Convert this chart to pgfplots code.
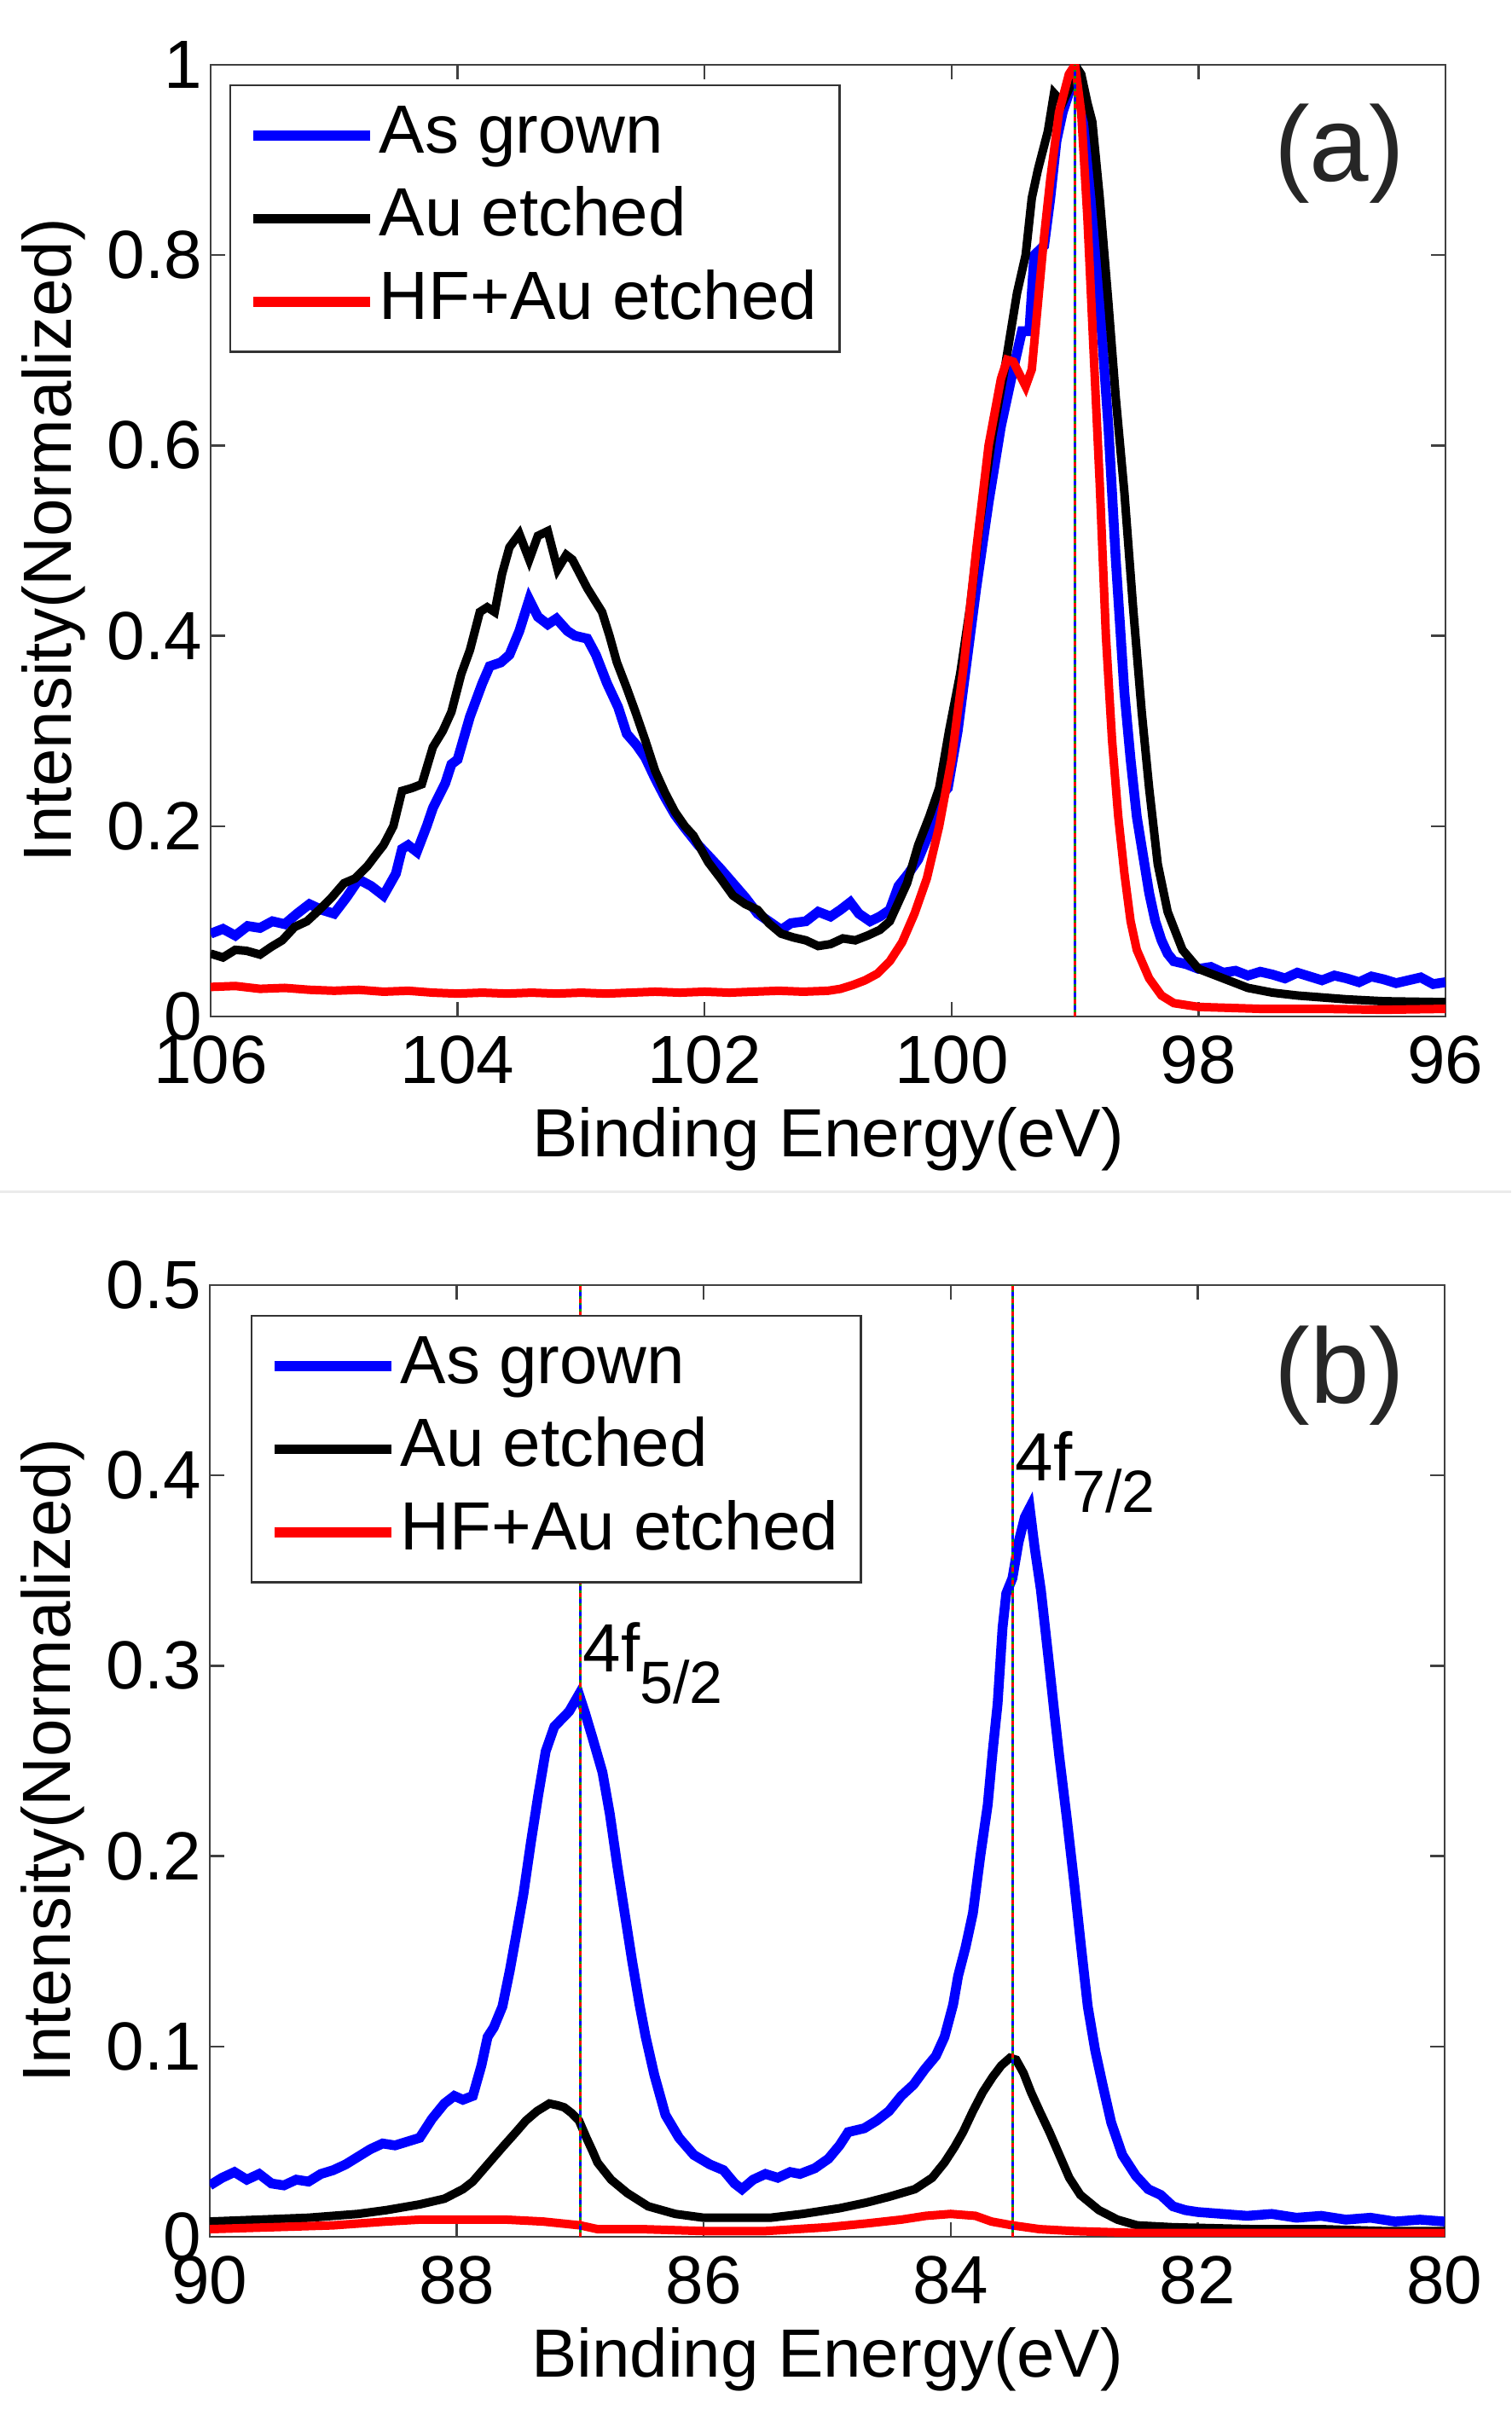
\documentclass[border=0pt]{standalone}
\usepackage{fontspec}
\setmainfont{Liberation Sans}
\usepackage{pgfplots}
\pgfplotsset{compat=1.18}

\pgfplotsset{
  xps/.style={
    scale only axis,
    width=289.6pt, height=223.2pt,
    x dir=reverse,
    axis line style={black!75, line width=0.5pt},
    every tick/.style={black!75, line width=0.5pt},
    major tick length=3.4pt,
    tick align=inside,
    /pgf/number format/assume math mode=true,
    ticklabel style={font=\fontsize{16}{18}\selectfont},
    xticklabel style={yshift=-1pt},
    yticklabel style={xshift=1.5pt},
    xlabel={Binding Energy(eV)},
    ylabel={Intensity(Normalized)},
    xlabel style={font=\fontsize{16}{18}\selectfont, yshift=1.5pt},
    ylabel style={font=\fontsize{16}{18}\selectfont},
    ylabel shift=-1.8pt,
    legend cell align=left,
    legend style={at={(rel axis cs:0,1)}, anchor=north west,
      draw=black!80, line width=0.5pt,
      font=\fontsize{16}{18}\selectfont,
      inner xsep=4.2pt, inner ysep=4.3pt, row sep=4.6pt,
      nodes={inner xsep=1pt, inner ysep=0pt, text height=11.5pt, text depth=3.4pt}},
    legend image code/.code={\draw[line width=2.3pt] (0pt,0pt) -- (27.4pt,0pt);},
    every axis plot/.append style={line width=2pt},
  },
  mark line/.style={line width=0.6pt, forget plot},
}

\begin{document}
\begin{tikzpicture}
\useasboundingbox (0,0) rectangle (354.4pt,566.4pt);
\draw[black!8, line width=0.6pt] (0,286.8pt) -- (354.4pt,286.8pt);

% ---------------- (a) Si 2p ----------------
\begin{axis}[xps,
  at={(49.4pt,328pt)}, anchor=south west,
  xmin=96, xmax=106, ymin=0, ymax=1,
  xtick={96,98,...,106},
  ytick={0,0.2,...,1},
  legend style={xshift=4.4pt, yshift=-4.6pt},
]
\addplot[blue, line width=2.3pt] coordinates {
(106.0,0.087) (105.9,0.092) (105.8,0.085) (105.7,0.095) (105.6,0.093) (105.5,0.100)
(105.4,0.097) (105.3,0.108) (105.2,0.118) (105.1,0.112) (105.0,0.108) (104.9,0.125)
(104.8,0.144) (104.7,0.137) (104.6,0.127) (104.5,0.150) (104.45,0.176) (104.4,0.180)
(104.33,0.173) (104.25,0.200) (104.2,0.219) (104.1,0.245) (104.05,0.265) (104.0,0.270)
(103.9,0.315) (103.8,0.350) (103.74,0.368) (103.65,0.372) (103.58,0.380) (103.5,0.405)
(103.42,0.438) (103.35,0.420) (103.27,0.412) (103.2,0.418) (103.11,0.405) (103.05,0.400)
(102.95,0.397) (102.88,0.380) (102.79,0.350) (102.7,0.325) (102.63,0.297) (102.55,0.285)
(102.48,0.272) (102.4,0.250) (102.32,0.230) (102.24,0.212) (102.16,0.198) (102.05,0.180)
(101.97,0.169) (101.87,0.155) (101.77,0.140) (101.67,0.125) (101.57,0.108) (101.48,0.100)
(101.38,0.091) (101.3,0.098) (101.18,0.100) (101.08,0.110) (100.98,0.105) (100.9,0.112)
(100.82,0.120) (100.75,0.108) (100.66,0.100) (100.58,0.105) (100.5,0.112) (100.43,0.137)
(100.35,0.150) (100.27,0.165) (100.19,0.190) (100.1,0.230) (100.03,0.240) (99.95,0.30)
(99.87,0.38) (99.8,0.45) (99.7,0.54) (99.6,0.62) (99.5,0.68) (99.43,0.72) (99.37,0.72)
(99.33,0.80) (99.25,0.81) (99.2,0.86) (99.15,0.92) (99.1,0.95) (99.05,0.97) (99.0,1.00)
(98.95,0.97) (98.9,0.92) (98.86,0.85) (98.8,0.75) (98.73,0.62) (98.67,0.48) (98.6,0.34)
(98.55,0.27) (98.5,0.21) (98.45,0.17) (98.4,0.13) (98.35,0.10) (98.3,0.08) (98.25,0.066)
(98.2,0.058) (98.1,0.055) (98.0,0.050) (97.9,0.052) (97.8,0.046) (97.7,0.048) (97.6,0.043)
(97.5,0.047) (97.4,0.044) (97.3,0.040) (97.2,0.046) (97.1,0.042) (97.0,0.038) (96.9,0.043)
(96.8,0.040) (96.7,0.036) (96.6,0.042) (96.5,0.039) (96.4,0.035) (96.3,0.038) (96.2,0.041)
(96.1,0.034) (96.0,0.036)
};
\addlegendentry{As grown}
\addplot[black] coordinates {
(106.0,0.066) (105.9,0.062) (105.8,0.070) (105.71,0.069) (105.6,0.065) (105.51,0.073)
(105.42,0.080) (105.32,0.094) (105.22,0.100) (105.12,0.112) (105.02,0.125) (104.92,0.140)
(104.83,0.145) (104.73,0.158) (104.66,0.170) (104.6,0.180) (104.52,0.200) (104.45,0.237)
(104.37,0.240) (104.29,0.244) (104.2,0.283) (104.12,0.300) (104.05,0.320) (103.97,0.360)
(103.9,0.385) (103.82,0.425) (103.76,0.430) (103.7,0.425) (103.64,0.465) (103.58,0.493)
(103.5,0.507) (103.42,0.480) (103.35,0.505) (103.27,0.510) (103.19,0.470) (103.12,0.485)
(103.07,0.480) (102.95,0.450) (102.83,0.425) (102.77,0.400) (102.71,0.372) (102.63,0.345)
(102.56,0.320) (102.48,0.290) (102.4,0.258) (102.32,0.235) (102.24,0.215) (102.16,0.200)
(102.09,0.190) (101.97,0.162) (101.87,0.145) (101.77,0.127) (101.67,0.118) (101.57,0.112)
(101.48,0.098) (101.38,0.087) (101.28,0.083) (101.18,0.080) (101.08,0.074) (100.98,0.076)
(100.88,0.082) (100.78,0.080) (100.68,0.085) (100.58,0.091) (100.5,0.100) (100.43,0.120)
(100.36,0.140) (100.27,0.180) (100.18,0.210) (100.1,0.240) (100.02,0.300) (99.93,0.36)
(99.85,0.43) (99.77,0.52) (99.67,0.61) (99.57,0.68) (99.47,0.76) (99.4,0.80) (99.35,0.86)
(99.3,0.89) (99.22,0.93) (99.17,0.97) (99.1,0.96) (99.03,0.98) (99.0,1.00) (98.95,0.99)
(98.9,0.96) (98.86,0.94) (98.8,0.86) (98.73,0.75) (98.67,0.65) (98.6,0.55) (98.53,0.43)
(98.46,0.32) (98.4,0.24) (98.33,0.16) (98.25,0.11) (98.13,0.07) (98.0,0.05) (97.8,0.040)
(97.6,0.030) (97.4,0.025) (97.2,0.022) (97.0,0.020) (96.8,0.018) (96.5,0.016) (96.0,0.015)
};
\addlegendentry{Au etched}
\addplot[red] coordinates {
(106.0,0.031) (105.8,0.032) (105.6,0.029) (105.4,0.030) (105.2,0.028) (105.0,0.027)
(104.8,0.028) (104.6,0.026) (104.4,0.027) (104.2,0.025) (104.0,0.024) (103.8,0.025)
(103.6,0.024) (103.4,0.025) (103.2,0.024) (103.0,0.025) (102.8,0.024) (102.6,0.025)
(102.4,0.026) (102.2,0.025) (102.0,0.026) (101.8,0.025) (101.6,0.026) (101.4,0.027)
(101.2,0.026) (101.0,0.027) (100.9,0.029) (100.8,0.033) (100.7,0.038) (100.6,0.045)
(100.5,0.058) (100.4,0.078) (100.3,0.108) (100.2,0.145) (100.1,0.200) (100.0,0.270)
(99.9,0.370) (99.8,0.490) (99.7,0.600) (99.6,0.670) (99.55,0.690) (99.5,0.688)
(99.45,0.675) (99.4,0.662) (99.35,0.680) (99.3,0.750) (99.25,0.820) (99.2,0.880)
(99.13,0.950) (99.05,0.990) (99.0,1.000) (98.95,0.950) (98.9,0.840) (98.85,0.700)
(98.8,0.560) (98.75,0.400) (98.7,0.290) (98.65,0.210) (98.6,0.150) (98.55,0.100)
(98.5,0.070) (98.4,0.040) (98.3,0.022) (98.2,0.014) (98.0,0.010) (97.5,0.008)
(97.0,0.008) (96.5,0.007) (96.0,0.008)
};
\addlegendentry{HF+Au etched}
% peak marker
\addplot[mark line, green!60!black] coordinates {(99,0) (99,1)};
\addplot[mark line, red, dash pattern=on 1pt off 2pt] coordinates {(99,0) (99,1)};
\addplot[mark line, blue, dash pattern=on 1pt off 2pt, dash phase=1.5pt] coordinates {(99,0) (99,1)};
\node[font=\fontsize{25}{28}\selectfont, text=black!85] at (rel axis cs:0.914,0.907) {(a)};
\end{axis}

% ---------------- (b) Au 4f ----------------
\begin{axis}[xps,
  at={(49.2pt,41.8pt)}, anchor=south west,
  xmin=80, xmax=90, ymin=0, ymax=0.5,
  xtick={80,82,...,90},
  ytick={0,0.1,...,0.5},
  yticklabel style={/pgf/number format/fixed, /pgf/number format/precision=1},
  legend style={xshift=9.6pt, yshift=-7pt},
]
\addplot[blue, line width=2.3pt] coordinates {
(90.0,0.027) (89.9,0.031) (89.8,0.034) (89.7,0.030) (89.6,0.033) (89.5,0.028)
(89.4,0.027) (89.3,0.030) (89.2,0.029) (89.1,0.033) (89.0,0.035) (88.9,0.038)
(88.8,0.042) (88.7,0.046) (88.6,0.049) (88.5,0.048) (88.4,0.050) (88.3,0.052)
(88.2,0.062) (88.1,0.070) (88.02,0.074) (87.95,0.072) (87.87,0.074) (87.8,0.090)
(87.75,0.105) (87.7,0.110) (87.63,0.121) (87.57,0.140) (87.52,0.158) (87.46,0.180)
(87.4,0.207) (87.34,0.232) (87.28,0.255) (87.21,0.268) (87.15,0.272) (87.09,0.276)
(87.01,0.285) (86.96,0.275) (86.9,0.262) (86.82,0.244) (86.76,0.222) (86.7,0.195)
(86.64,0.170) (86.58,0.145) (86.52,0.122) (86.47,0.105) (86.4,0.085) (86.31,0.064)
(86.2,0.052) (86.08,0.043) (85.95,0.038) (85.84,0.035) (85.75,0.028) (85.69,0.025)
(85.6,0.030) (85.5,0.033) (85.4,0.031) (85.3,0.034) (85.22,0.033) (85.1,0.036)
(84.99,0.041) (84.9,0.048) (84.83,0.055) (84.7,0.057) (84.6,0.061) (84.5,0.066)
(84.4,0.074) (84.3,0.080) (84.21,0.088) (84.12,0.095) (84.05,0.105) (83.98,0.122)
(83.94,0.137) (83.88,0.152) (83.82,0.170) (83.76,0.200) (83.7,0.227) (83.66,0.255)
(83.62,0.280) (83.58,0.320) (83.55,0.338) (83.5,0.346) (83.45,0.365) (83.4,0.378)
(83.36,0.383) (83.32,0.362) (83.27,0.340) (83.21,0.305) (83.16,0.275) (83.12,0.252)
(83.06,0.220) (83.0,0.186) (82.94,0.150) (82.89,0.121) (82.83,0.098) (82.77,0.080)
(82.7,0.060) (82.61,0.043) (82.5,0.032) (82.4,0.025) (82.3,0.022) (82.2,0.016)
(82.1,0.014) (82.0,0.013) (81.8,0.012) (81.6,0.011) (81.4,0.012) (81.2,0.010)
(81.0,0.011) (80.8,0.009) (80.6,0.010) (80.4,0.008) (80.2,0.009) (80.0,0.008)
};
\addlegendentry{As grown}
\addplot[black] coordinates {
(90.0,0.008) (89.6,0.009) (89.2,0.010) (88.8,0.012) (88.57,0.014) (88.3,0.017)
(88.1,0.020) (87.95,0.025) (87.87,0.029) (87.75,0.038) (87.63,0.047) (87.52,0.055)
(87.44,0.061) (87.35,0.066) (87.25,0.070) (87.18,0.069) (87.13,0.068) (87.07,0.065)
(87.01,0.061) (86.95,0.052) (86.9,0.045) (86.86,0.039) (86.75,0.030) (86.62,0.023)
(86.45,0.016) (86.23,0.012) (86.0,0.010) (85.7,0.010) (85.46,0.010) (85.2,0.012)
(84.9,0.015) (84.68,0.018) (84.5,0.021) (84.29,0.025) (84.15,0.031) (84.05,0.039)
(83.97,0.047) (83.9,0.055) (83.82,0.066) (83.74,0.076) (83.66,0.084) (83.59,0.090)
(83.52,0.094) (83.47,0.093) (83.41,0.086) (83.35,0.076) (83.28,0.066) (83.2,0.055)
(83.12,0.043) (83.04,0.031) (82.95,0.022) (82.8,0.014) (82.65,0.009) (82.49,0.006)
(82.2,0.005) (81.56,0.004) (81.0,0.004) (80.5,0.003) (80.0,0.003)
};
\addlegendentry{Au etched}
\addplot[red] coordinates {
(90.0,0.004) (89.5,0.005) (89.0,0.006) (88.57,0.008) (88.3,0.009) (88.0,0.009)
(87.6,0.009) (87.3,0.008) (87.0,0.006) (86.86,0.004) (86.5,0.004) (86.0,0.003)
(85.5,0.003) (85.0,0.005) (84.68,0.007) (84.4,0.009) (84.2,0.011) (84.0,0.012)
(83.8,0.011) (83.67,0.008) (83.5,0.006) (83.28,0.004) (83.0,0.003) (82.5,0.002)
(82.0,0.002) (81.0,0.002) (80.0,0.002)
};
\addlegendentry{HF+Au etched}
% peak markers
\addplot[mark line, green!60!black] coordinates {(87,0) (87,0.5)};
\addplot[mark line, red, dash pattern=on 1pt off 2pt] coordinates {(87,0) (87,0.5)};
\addplot[mark line, blue, dash pattern=on 1pt off 2pt, dash phase=1.5pt] coordinates {(87,0) (87,0.5)};
\addplot[mark line, green!60!black] coordinates {(83.5,0) (83.5,0.5)};
\addplot[mark line, red, dash pattern=on 1pt off 2pt] coordinates {(83.5,0) (83.5,0.5)};
\addplot[mark line, blue, dash pattern=on 1pt off 2pt, dash phase=1.5pt] coordinates {(83.5,0) (83.5,0.5)};
\node[anchor=base west, inner sep=0pt, xshift=0.5pt, font=\fontsize{16}{18}\selectfont]
  at (axis cs:87,0.297) {4f\raisebox{-7.4pt}{\fontsize{14}{16}\selectfont 5/2}};
\node[anchor=base west, inner sep=0pt, xshift=0.5pt, font=\fontsize{16}{18}\selectfont]
  at (axis cs:83.5,0.397) {4f\raisebox{-7.4pt}{\fontsize{14}{16}\selectfont 7/2}};
\node[font=\fontsize{25}{28}\selectfont, text=black!85] at (rel axis cs:0.915,0.905) {(b)};
\end{axis}
\end{tikzpicture}
\end{document}
